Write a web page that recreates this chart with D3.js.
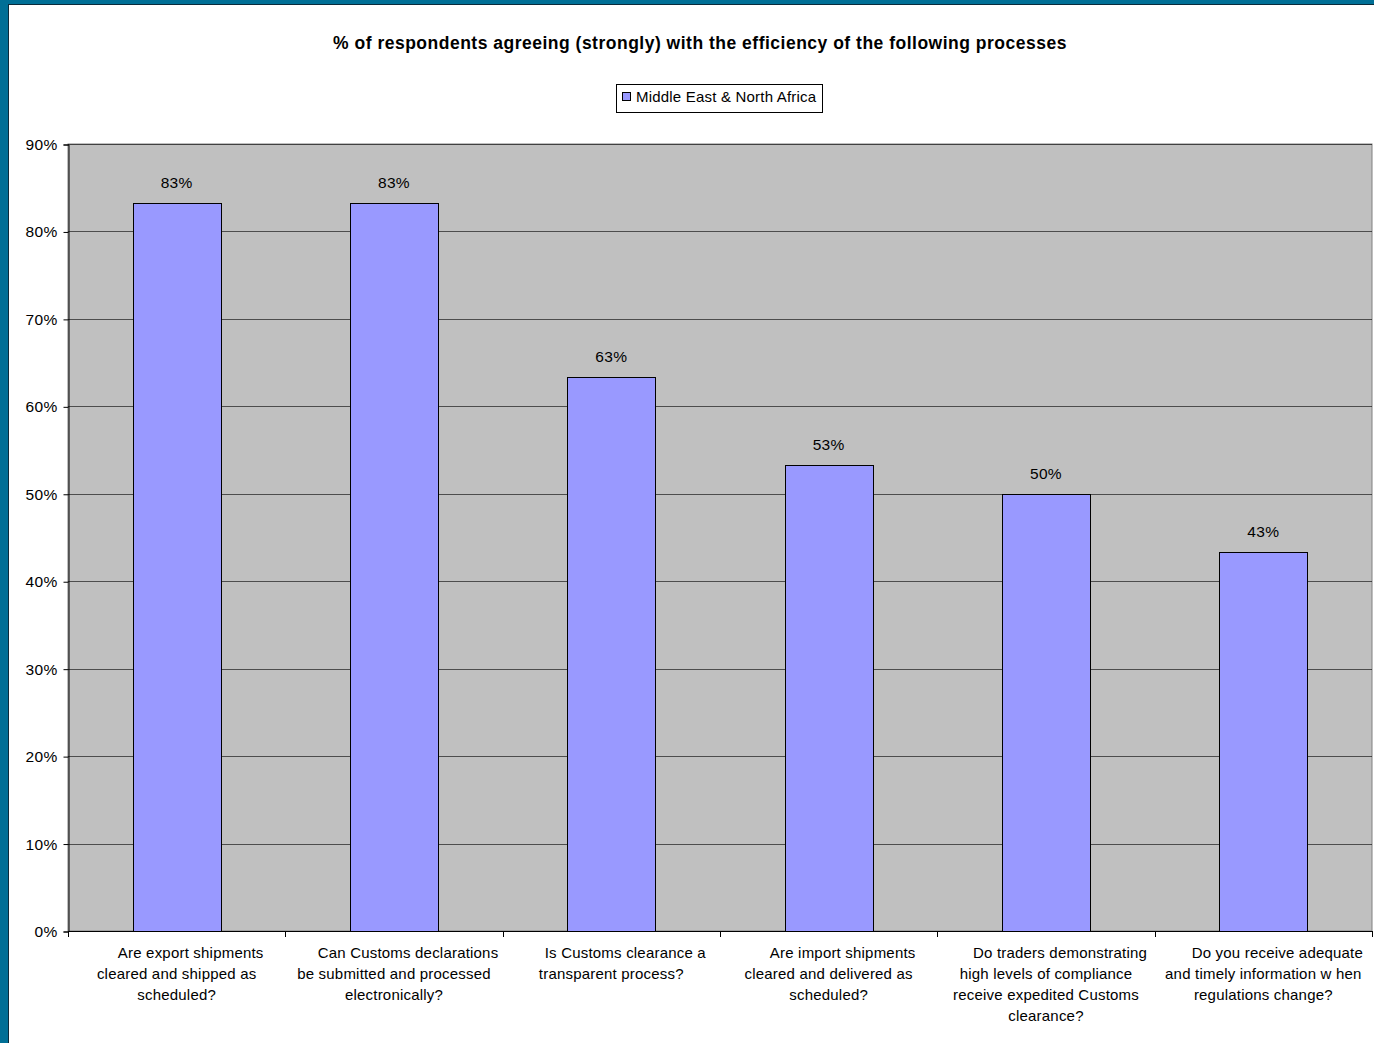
<!DOCTYPE html>
<html><head><meta charset="utf-8">
<script src="https://cdn.jsdelivr.net/npm/d3@7"></script>
<style>
html,body{margin:0;padding:0;background:#fff;}
svg{display:block;font-family:"Liberation Sans",Arial,sans-serif;}
</style></head>
<body>
<svg id="chart" width="1374" height="1043"></svg>
<script>
const title = "% of respondents agreeing (strongly) with the efficiency of the following processes";
const seriesName = "Middle East & North Africa";
const categories = [
  ["Are export shipments","cleared and shipped as","scheduled?"],
  ["Can Customs declarations","be submitted and processed","electronically?"],
  ["Is Customs clearance a","transparent process?"],
  ["Are import shipments","cleared and delivered as","scheduled?"],
  ["Do traders demonstrating","high levels of compliance","receive expedited Customs","clearance?"],
  ["Do you receive adequate","and timely information w hen","regulations change?"]
];
const values = [0.833, 0.833, 0.633, 0.533, 0.50, 0.433];
const valueLabels = ["83%","83%","63%","53%","50%","43%"];
const yTicks = [0,0.1,0.2,0.3,0.4,0.5,0.6,0.7,0.8,0.9];

const svg = d3.select("#chart");
// frame
svg.append("rect").attr("x",0).attr("y",0).attr("width",1374).attr("height",1043).attr("fill","#006F96");
svg.append("rect").attr("x",9).attr("y",5).attr("width",1365).attr("height",1038).attr("fill","#fff");
svg.append("line").attr("x1",8.5).attr("x2",8.5).attr("y1",4).attr("y2",1043).attr("stroke","#0a2a3a").attr("stroke-width",1);
svg.append("line").attr("x1",8).attr("x2",1374).attr("y1",4.5).attr("y2",4.5).attr("stroke","#0a2a3a").attr("stroke-width",1);

const plot = {left:68, right:1372, top:144, bottom:931};
const x = d3.scaleBand().domain(d3.range(categories.length)).range([plot.left, plot.right]).paddingInner(0).paddingOuter(0);
const y = d3.scaleLinear().domain([0,0.9]).range([plot.bottom, plot.top]);

svg.append("rect").attr("x",plot.left).attr("y",plot.top).attr("width",plot.right-plot.left).attr("height",plot.bottom-plot.top)
  .attr("fill","#C0C0C0").attr("stroke","#808080").attr("stroke-width",1);

// gridlines
svg.append("g").selectAll("line").data(yTicks.filter(d=>d>0)).join("line")
  .attr("x1",plot.left).attr("x2",plot.right)
  .attr("y1",d=>Math.round(y(d))+0.5).attr("y2",d=>Math.round(y(d))+0.5)
  .attr("stroke","#000").attr("stroke-opacity",0.6).attr("stroke-width",1);

// y axis
const yAxis = d3.axisLeft(y).tickValues(yTicks).tickFormat(d3.format(".0%")).tickSize(5).tickPadding(6);
const gy = svg.append("g").attr("transform",`translate(${plot.left+0.5},0.5)`).call(yAxis);
gy.select(".domain").attr("stroke","#000");
gy.selectAll(".tick line").attr("stroke","#000");
gy.selectAll("text").attr("font-size",15.5).attr("letter-spacing",0.3).attr("fill","#000").attr("font-family","Liberation Sans, Arial, sans-serif");

// x axis
svg.append("line").attr("x1",plot.left).attr("x2",plot.right).attr("y1",plot.bottom+0.5).attr("y2",plot.bottom+0.5).attr("stroke","#000");
const boundaries = d3.range(categories.length+1).map(i => i<categories.length ? x(i) : plot.right);
svg.append("g").selectAll("line").data(boundaries).join("line")
  .attr("x1",d=>Math.round(d)+0.5).attr("x2",d=>Math.round(d)+0.5)
  .attr("y1",plot.bottom).attr("y2",plot.bottom+6).attr("stroke","#000");

// bars
const bw = x.bandwidth()*0.405;
svg.append("g").selectAll("rect").data(values).join("rect")
  .attr("x",(d,i)=>Math.round(x(i)+x.bandwidth()/2-bw/2)+0.5)
  .attr("y",d=>Math.round(y(d))+0.5)
  .attr("width",Math.round(bw))
  .attr("height",d=>Math.round(y(0))-Math.round(y(d)))
  .attr("fill","#9999FF").attr("stroke","#000").attr("stroke-width",1);

// value labels
svg.append("g").selectAll("text").data(values).join("text")
  .attr("x",(d,i)=>x(i)+x.bandwidth()/2)
  .attr("y",d=>y(d)-15)
  .attr("text-anchor","middle").attr("font-size",15.5).attr("letter-spacing",0.3).attr("fill","#000")
  .text((d,i)=>valueLabels[i]);

// category labels
const cat = svg.append("g").selectAll("text").data(categories).join("text")
  .attr("text-anchor","middle").attr("font-size",15).attr("letter-spacing",0.2).attr("fill","#000");
cat.each(function(lines,i){
  const t = d3.select(this);
  lines.forEach((ln,j)=>{
    t.append("tspan").attr("x",x(i)+x.bandwidth()/2 + (j===0 ? 14 : 0)).attr("y",958+j*21).text(ln);
  });
});

// title
svg.append("text").attr("x",700).attr("y",49).attr("text-anchor","middle")
  .attr("font-size",17.5).attr("letter-spacing",0.5).attr("font-weight","bold").attr("fill","#000").text(title);

// legend
const lg = svg.append("g");
lg.append("rect").attr("x",616.5).attr("y",84.5).attr("width",206).attr("height",28).attr("fill","#fff").attr("stroke","#000");
lg.append("rect").attr("x",622.5).attr("y",92.5).attr("width",8).attr("height",8).attr("fill","#9999FF").attr("stroke","#000");
lg.append("text").attr("x",636).attr("y",102).attr("font-size",15).attr("letter-spacing",0.2).attr("fill","#000").text(seriesName);
</script>
</body></html>
